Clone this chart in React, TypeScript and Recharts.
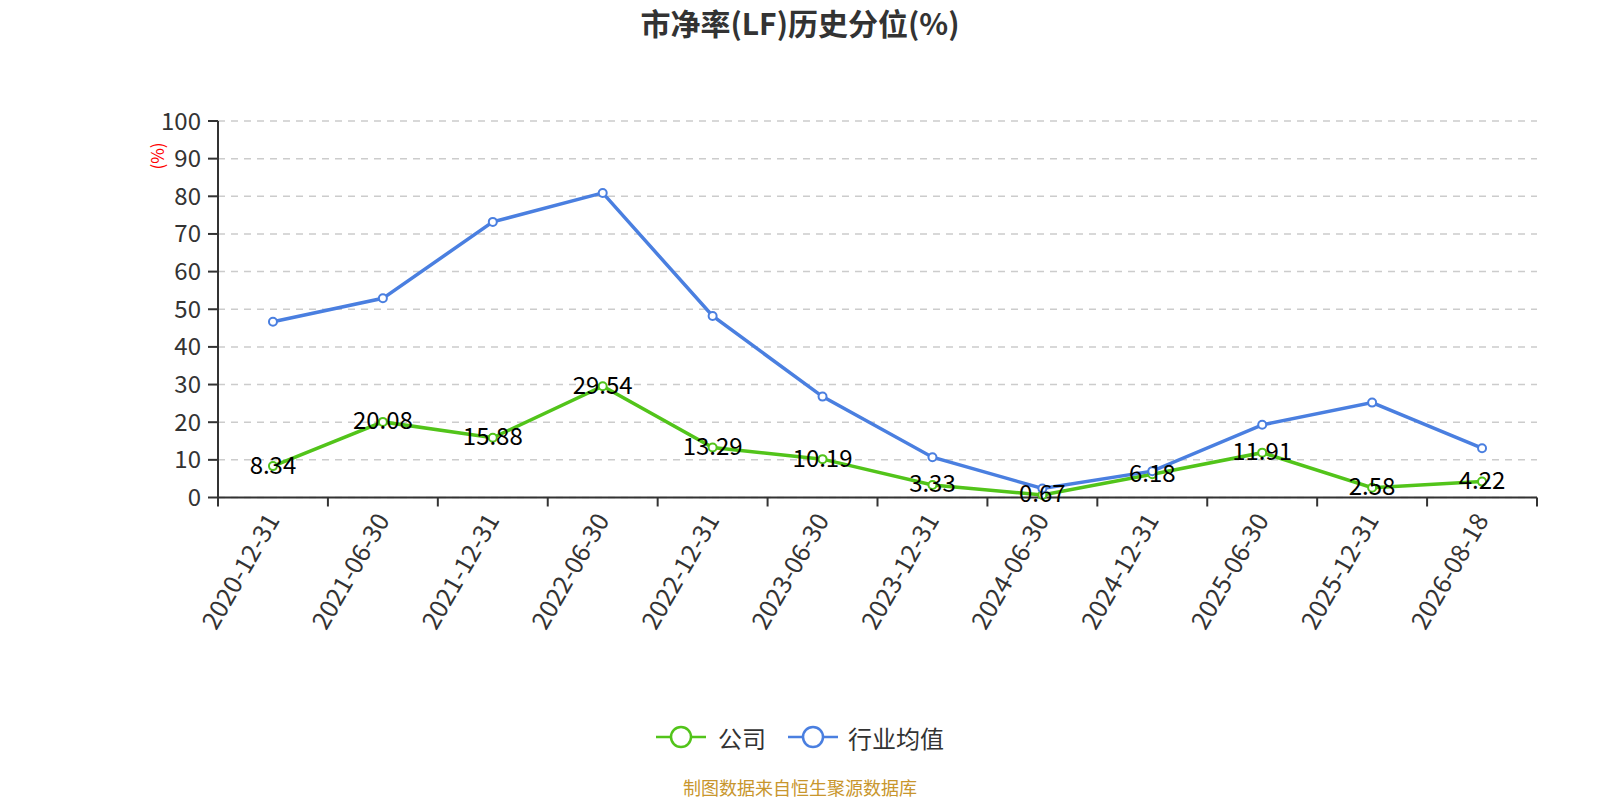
import { LineChart, Line, XAxis, YAxis, CartesianGrid, LabelList } from "recharts";

const dates = [
  "2020-12-31", "2021-06-30", "2021-12-31", "2022-06-30", "2022-12-31", "2023-06-30",
  "2023-12-31", "2024-06-30", "2024-12-31", "2025-06-30", "2025-12-31", "2026-08-18",
];
const company = [8.34, 20.08, 15.88, 29.54, 13.29, 10.19, 3.33, 0.67, 6.18, 11.91, 2.58, 4.22];
const industry = [46.7, 52.9, 73.2, 80.9, 48.2, 26.8, 10.7, 2.4, 7.0, 19.3, 25.2, 13.1];
const yTicks = [0, 10, 20, 30, 40, 50, 60, 70, 80, 90, 100];

const GREEN = "#52c41a";
const BLUE = "#4a7fe0";
const FONT = "'Noto Sans CJK SC', 'Noto Sans', sans-serif";

const W = 1600;
const H = 800;
const PLOT_LEFT = 218;
const PLOT_RIGHT = 1537;
const PLOT_TOP = 121;
const PLOT_BOTTOM = 497.5;
const HALF = (PLOT_RIGHT - PLOT_LEFT) / dates.length / 2;
const X_TICK_SIZE = 9;
const X_TICK_MARGIN = 8;

const data = dates.map((d, i) => ({ date: d, company: company[i], industry: industry[i] }));

function DateTick({ x, y, payload, index }: any) {
  const top = y - X_TICK_SIZE - X_TICK_MARGIN;
  const lx = x - 2;
  return (
    <g>
      <line x1={x - HALF} x2={x - HALF} y1={top} y2={top + X_TICK_SIZE} stroke="#333" strokeWidth={2} />
      {index === dates.length - 1 && (
        <line x1={x + HALF} x2={x + HALF} y1={top} y2={top + X_TICK_SIZE} stroke="#333" strokeWidth={2} />
      )}
      <text
        x={lx}
        y={y}
        transform={`rotate(-60, ${lx}, ${y})`}
        textAnchor="end"
        dominantBaseline="central"
        fontSize={25}
        fill="#333"
        fontFamily={FONT}
      >
        {payload.value}
      </text>
    </g>
  );
}

function ValueLabel({ x, y, value }: any) {
  return (
    <text x={x} y={y - 3} textAnchor="middle" dominantBaseline="central" fontSize={24} fill="#000" fontFamily={FONT}>
      {value}
    </text>
  );
}

function LegendIcon({ color }: { color: string }) {
  return (
    <svg width={50} height={26} style={{ display: "block" }}>
      <line x1={0} x2={50} y1={13} y2={13} stroke={color} strokeWidth={2.5} />
      <circle cx={25} cy={13} r={10} fill="#fff" stroke={color} strokeWidth={2.5} />
    </svg>
  );
}

export default function App() {
  return (
    <div style={{ position: "absolute", left: 0, top: 0, width: W, height: H, overflow: "hidden", background: "#fff", fontFamily: FONT }}>
      <div
        style={{
          position: "absolute",
          top: 4,
          left: 0,
          width: W,
          lineHeight: "36px",
          textAlign: "center",
          fontSize: 30,
          fontWeight: 700,
          color: "#333",
        }}
      >
        市净率(LF)历史分位(%)
      </div>
      <div
        style={{
          position: "absolute",
          left: 157,
          top: 156,
          transform: "translate(-50%, -50%) rotate(-90deg)",
          color: "#ff0000",
          fontSize: 17,
          lineHeight: "20px",
          whiteSpace: "nowrap",
        }}
      >
        (%)
      </div>
      <LineChart
        width={W}
        height={H}
        data={data}
        margin={{ top: PLOT_TOP, right: W - PLOT_RIGHT, left: PLOT_LEFT - 60, bottom: H - PLOT_BOTTOM - 150 }}
      >
        <CartesianGrid vertical={false} stroke="#ccc" strokeDasharray="7 6" strokeWidth={1.5} />
        <XAxis
          dataKey="date"
          padding={{ left: HALF, right: HALF }}
          height={150}
          interval={0}
          tickSize={X_TICK_SIZE}
          tickMargin={X_TICK_MARGIN}
          tickLine={false}
          axisLine={{ stroke: "#333", strokeWidth: 2 }}
          tick={<DateTick />}
        />
        <YAxis
          width={60}
          domain={[0, 100]}
          ticks={yTicks}
          interval={0}
          tickSize={10}
          tickMargin={7}
          axisLine={{ stroke: "#333", strokeWidth: 2 }}
          tickLine={{ stroke: "#333", strokeWidth: 2 }}
          tick={{ fontSize: 24, fill: "#333", fontFamily: FONT }}
        />
        <Line
          dataKey="company"
          stroke={GREEN}
          strokeWidth={3.5}
          dot={{ r: 4, fill: "#fff", stroke: GREEN, strokeWidth: 2 }}
          isAnimationActive={false}
        >
          <LabelList dataKey="company" content={<ValueLabel />} />
        </Line>
        <Line
          dataKey="industry"
          stroke={BLUE}
          strokeWidth={3.5}
          dot={{ r: 4, fill: "#fff", stroke: BLUE, strokeWidth: 2 }}
          isAnimationActive={false}
        />
      </LineChart>
      <div
        style={{
          position: "absolute",
          top: 721,
          left: 0,
          width: W,
          height: 32,
          display: "flex",
          justifyContent: "center",
          alignItems: "center",
          fontSize: 24,
          color: "#333",
        }}
      >
        <LegendIcon color={GREEN} />
        <span style={{ marginLeft: 12, marginRight: 22 }}>公司</span>
        <LegendIcon color={BLUE} />
        <span style={{ marginLeft: 10 }}>行业均值</span>
      </div>
      <div
        style={{
          position: "absolute",
          top: 776,
          left: 0,
          width: W,
          lineHeight: "22px",
          textAlign: "center",
          fontSize: 18,
          color: "#c8962d",
        }}
      >
        制图数据来自恒生聚源数据库
      </div>
    </div>
  );
}
